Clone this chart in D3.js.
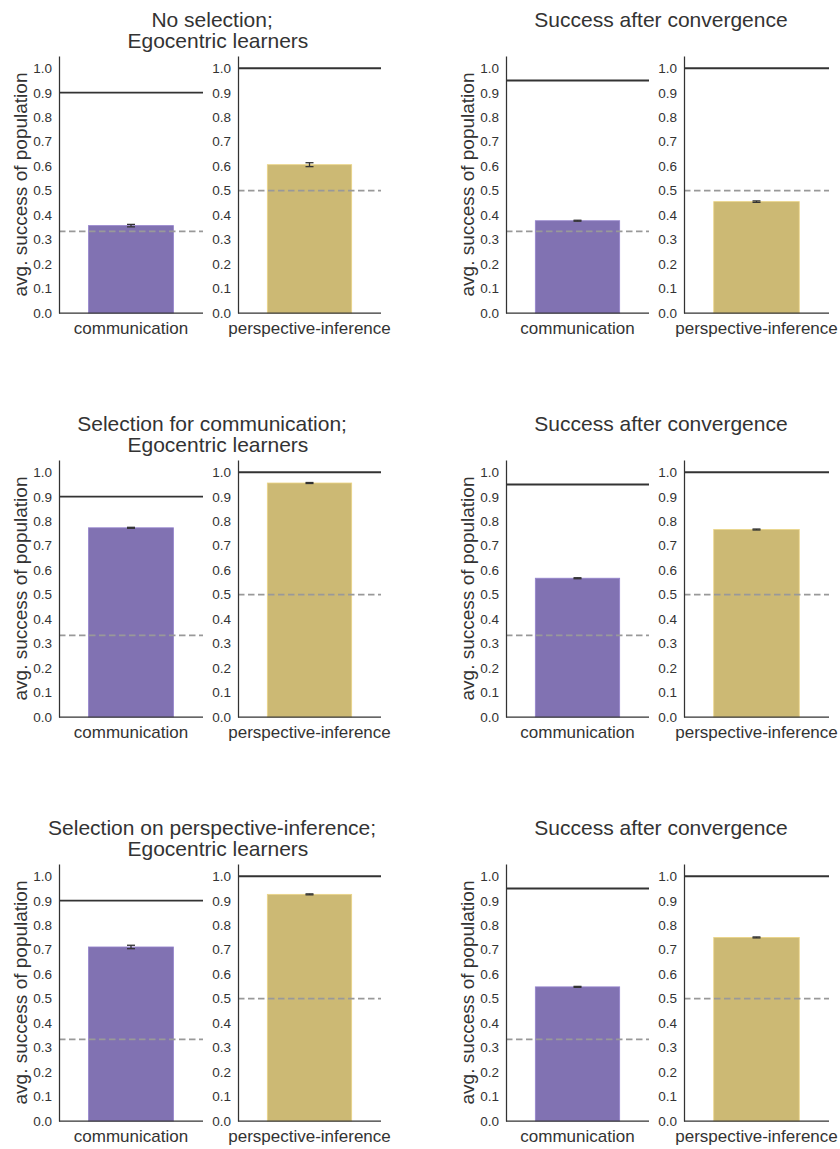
<!DOCTYPE html>
<html>
<head>
<meta charset="utf-8">
<script src="https://cdn.jsdelivr.net/npm/d3@7"></script>
<style>
  html, body { margin: 0; padding: 0; background: #fff; }
  svg { display: block; font-family: "Liberation Sans", Arial, sans-serif; }
  .title { white-space: pre; }
</style>
</head>
<body>
<svg id="chart" width="840" height="1149"></svg>
<script>
// Panel titles: three conditions (left column) and their converged results (right column)
const panelTitles = [
  ["No selection; ", " Egocentric learners"],
  ["Success after convergence"],
  ["Selection for communication; ", " Egocentric learners"],
  ["Success after convergence"],
  ["Selection on perspective-inference; ", " Egocentric learners"],
  ["Success after convergence"]
];
const measures = ["communication", "perspective-inference"];

// Mean success and error per panel
const commValues   = [0.357, 0.377, 0.773, 0.567, 0.711, 0.548];
const commErrors   = [0.005, 0.002, 0.002, 0.002, 0.007, 0.002];
const perspValues  = [0.606, 0.455, 0.956, 0.766, 0.926, 0.750];
const perspErrors  = [0.008, 0.003, 0.002, 0.002, 0.002, 0.002];

// Optimal (solid) and chance (dashed) reference levels
const commOptimal  = [0.9, 0.95, 0.9, 0.95, 0.9, 0.95];
const perspOptimal = [1.0, 1.0, 1.0, 1.0, 1.0, 1.0];
const commChance   = [1/3, 1/3, 1/3, 1/3, 1/3, 1/3];
const perspChance  = [0.5, 0.5, 0.5, 0.5, 0.5, 0.5];

const yTicks = [0, 0.1, 0.2, 0.3, 0.4, 0.5, 0.6, 0.7, 0.8, 0.9, 1.0];
const yLabel = "avg. success of population";

const colors = { "communication": "#8172B2", "perspective-inference": "#CCB974" };
const ink = "#333333";

const svg = d3.select("#chart");

// Layout of the grid of axes
const rowBottoms = [313, 717, 1121];
const axHeight = 257;
const colAxes = [
  [[59, 203], [238, 381]],
  [[506, 649], [684, 829]]
];
const titleCenters = [215, 661];

panelTitles.forEach((title, i) => {
  const row = Math.floor(i / 2), col = i % 2;
  const bottom = rowBottoms[row];
  const top = bottom - axHeight;

  const y = d3.scaleLinear().domain([0, 1.05]).range([bottom, top]);

  // title
  const t = svg.append("text")
    .attr("class", "title")
    .attr("x", titleCenters[col])
    .attr("text-anchor", "middle")
    .attr("font-size", 21)
    .attr("fill", ink);
  title.forEach((line, k) => {
    t.append("tspan").attr("x", titleCenters[col]).attr("y", bottom - 286 + k * 21).text(line);
  });

  // y label
  svg.append("text")
    .attr("transform", `translate(${colAxes[col][0][0] - 32},${(top + bottom) / 2}) rotate(-90)`)
    .attr("text-anchor", "middle")
    .attr("font-size", 19)
    .attr("fill", ink)
    .text(yLabel);

  measures.forEach((m, j) => {
    const [x0, x1] = colAxes[col][j];
    const x = d3.scaleBand().domain([m]).range([x0, x1]).padding(0.258);
    const g = svg.append("g");

    const value = j === 0 ? commValues[i] : perspValues[i];
    const err = j === 0 ? commErrors[i] : perspErrors[i];
    const optimal = j === 0 ? commOptimal[i] : perspOptimal[i];
    const chance = j === 0 ? commChance[i] : perspChance[i];

    // bar
    g.append("rect")
      .attr("x", x(m))
      .attr("width", x.bandwidth())
      .attr("y", y(value))
      .attr("height", y(0) - y(value))
      .attr("fill", colors[m])
      .attr("stroke", d3.color(colors[m]).brighter(0.4))
      .attr("stroke-width", 0.8);

    // error bar
    const cx = x(m) + x.bandwidth() / 2;
    const eb = g.append("g").attr("stroke", ink).attr("stroke-width", 1.3);
    eb.append("line").attr("x1", cx).attr("x2", cx).attr("y1", y(value - err)).attr("y2", y(value + err));
    [value - err, value + err].forEach(v => {
      eb.append("line").attr("x1", cx - 4).attr("x2", cx + 4).attr("y1", y(v)).attr("y2", y(v));
    });

    // reference lines
    g.append("line")
      .attr("x1", x0).attr("x2", x1)
      .attr("y1", y(optimal)).attr("y2", y(optimal))
      .attr("stroke", ink).attr("stroke-width", 1.8);
    g.append("line")
      .attr("x1", x0).attr("x2", x1)
      .attr("y1", y(chance)).attr("y2", y(chance))
      .attr("stroke", "#999999").attr("stroke-width", 1.6)
      .attr("stroke-dasharray", "6.5,3.5");

    // y axis
    const ya = g.append("g")
      .attr("transform", `translate(${x0},0)`)
      .call(d3.axisLeft(y).tickValues(yTicks).tickFormat(d3.format(".1f")).tickSize(0).tickPadding(7))
      .attr("font-family", null)
      .attr("font-size", 13.5);
    ya.select(".domain").attr("stroke", ink).attr("stroke-width", 1.25);
    ya.selectAll("text").attr("fill", ink);

    // x axis
    const xa = g.append("g")
      .attr("transform", `translate(0,${bottom})`)
      .call(d3.axisBottom(x).tickSize(0).tickPadding(9).tickSizeOuter(0))
      .attr("font-family", null)
      .attr("font-size", 17);
    xa.select(".domain").attr("stroke", ink).attr("stroke-width", 1.25)
      .attr("d", `M${x0},0H${x1}`);
    xa.selectAll("text").attr("fill", ink);
  });
});
</script>
</body>
</html>
